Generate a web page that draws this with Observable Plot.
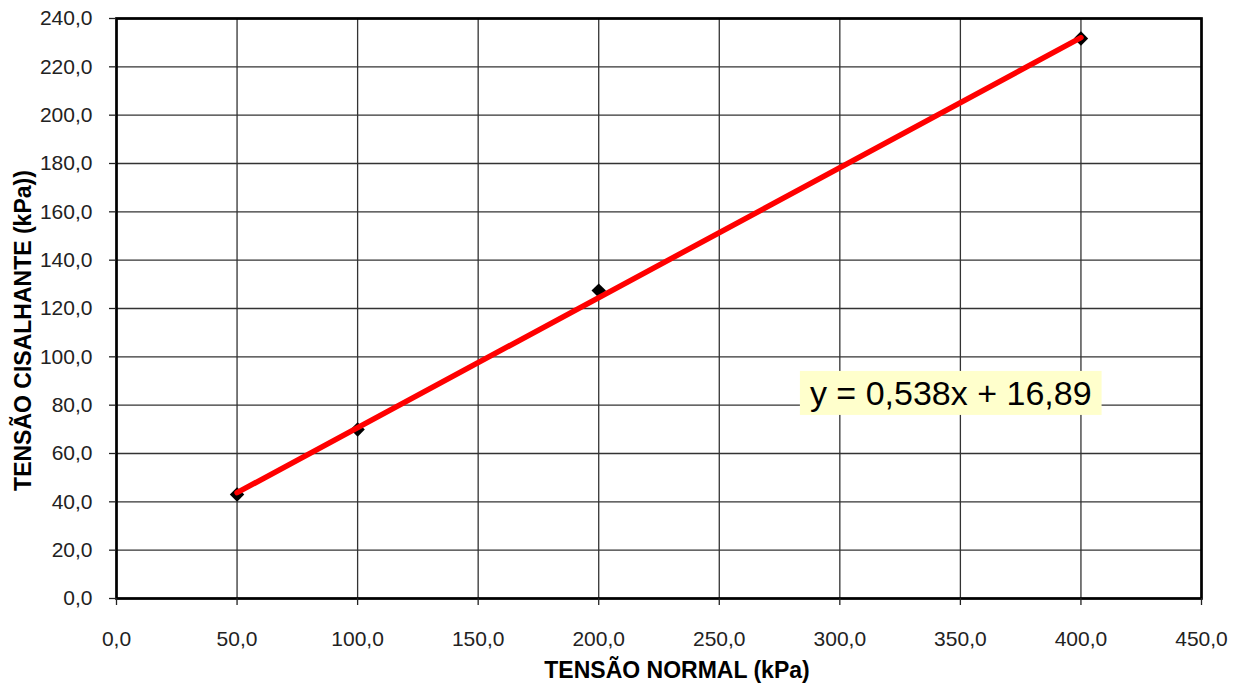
<!DOCTYPE html>
<html>
<head>
<meta charset="utf-8">
<script src="https://cdn.jsdelivr.net/npm/d3@7"></script>
<script src="https://cdn.jsdelivr.net/npm/@observablehq/plot@0.6"></script>
<style>
  html, body { margin: 0; padding: 0; background: #fff; }
</style>
</head>
<body>
<div id="chart"></div>
<script>
// ---- data ----
const normalStress = [50, 100, 200, 400];          // x (kPa)
const shearStress  = [43.0, 69.9, 127.4, 231.7];    // y (kPa)
const trendSlope = 0.538;
const trendIntercept = 16.89;
const xTicks = [0, 50, 100, 150, 200, 250, 300, 350, 400, 450];
const yTicks = [0, 20, 40, 60, 80, 100, 120, 140, 160, 180, 200, 220, 240];
const xTitle = "TENSÃO NORMAL (kPa)";
const yTitle = "TENSÃO CISALHANTE (kPa))";
const equationText = "y = 0,538x + 16,89";
const equationPos = [346, 84.6];

const points = normalStress.map((x, i) => ({x, y: shearStress[i]}));
const trendXs = [d3.min(normalStress), d3.max(normalStress)];
const trend = trendXs.map(x => ({x, y: trendSlope * x + trendIntercept}));
const fmt = d => d3.format(".1f")(d).replace(".", ",");

const font = "'Liberation Sans', Arial, sans-serif";

const chart = Plot.plot({
  width: 1240,
  height: 684,
  marginLeft: 116,
  marginRight: 39,
  marginTop: 18,
  marginBottom: 86,
  style: {fontFamily: font, fontSize: "21px", color: "#000", background: "#fff", overflow: "visible"},
  x: {domain: [0, 450], label: null},
  y: {domain: [0, 240], label: null},
  marks: [
    Plot.gridX(xTicks, {stroke: "#333", strokeOpacity: 1, strokeWidth: 1.3}),
    Plot.gridY(yTicks, {stroke: "#333", strokeOpacity: 1, strokeWidth: 1.3}),
    Plot.frame({stroke: "#000", strokeWidth: 2.7}),
    Plot.axisX({ticks: xTicks, tickSize: 7, tickPadding: 26, tickFormat: fmt, label: null, fontSize: 21, stroke: "#222", strokeWidth: 1.3, fill: "#222"}),
    Plot.axisY({ticks: yTicks, tickSize: 7, tickPadding: 17, tickFormat: fmt, label: null, fontSize: 21, stroke: "#222", strokeWidth: 1.3, fill: "#222"}),
    Plot.dot(points, {x: "x", y: "y", symbol: "diamond2", r: 6.5, fill: "#000", stroke: "none"}),
    Plot.line(trend, {x: "x", y: "y", stroke: "#ff0000", strokeWidth: 5.5}),
    Plot.text([equationText], {x: () => equationPos[0], y: () => equationPos[1], text: d => d, fontSize: 34, fill: "#000", textAnchor: "middle", lineAnchor: "middle", className: "eqlabel"}),
    Plot.text([xTitle], {frameAnchor: "bottom", text: d => d, dx: 18, dy: 79, lineAnchor: "bottom", fontSize: 23, fontWeight: "bold", fill: "#000"}),
    Plot.text([yTitle], {frameAnchor: "left", text: d => d, dx: -93, dy: 22, rotate: -90, lineAnchor: "middle", textAnchor: "middle", fontSize: 23, fontWeight: "bold", fill: "#000"})
  ]
});

document.getElementById("chart").appendChild(chart);

// yellow box behind the equation label
const t = chart.querySelector("g.eqlabel text") || chart.querySelector(".eqlabel text");
if (t) {
  const bb = t.getBBox();
  const ctm = t.getCTM();
  const svgCtm = chart.getCTM ? chart.getScreenCTM() : null;
  const padX = 10, padY = 3;
  const rect = document.createElementNS("http://www.w3.org/2000/svg", "rect");
  rect.setAttribute("x", bb.x - padX);
  rect.setAttribute("y", bb.y - padY);
  rect.setAttribute("width", bb.width + 2 * padX);
  rect.setAttribute("height", bb.height + 2 * padY);
  rect.setAttribute("fill", "#ffffcc");
  const tr = t.getAttribute("transform");
  if (tr) rect.setAttribute("transform", tr);
  t.parentNode.insertBefore(rect, t);
}
</script>
</body>
</html>
